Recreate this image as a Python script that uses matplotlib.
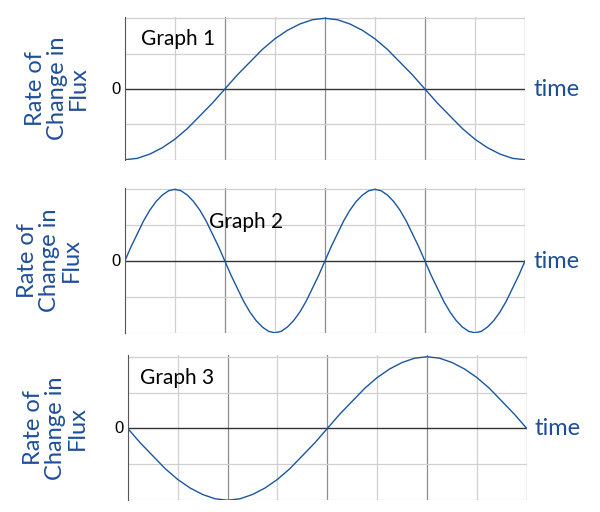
import matplotlib.pyplot as plt

# time in grid divisions (8 divisions across each graph)
t_coarse = [i * 0.25 for i in range(33)]
t_fine = [i * 0.125 for i in range(65)]

q = [0, 0.20, 0.38, 0.56, 0.71, 0.83, 0.92, 0.98, 1.0,
     0.98, 0.92, 0.83, 0.71, 0.56, 0.38, 0.20]  # a quarter wave

# graph 1: starts at minimum, peak at the middle
graph1 = [-1.0, -0.98, -0.92, -0.83, -0.71, -0.56, -0.38, -0.20, 0.0,
          0.20, 0.38, 0.56, 0.71, 0.83, 0.92, 0.98, 1.0,
          0.98, 0.92, 0.83, 0.71, 0.56, 0.38, 0.20, 0.0,
          -0.20, -0.38, -0.56, -0.71, -0.83, -0.92, -0.98, -1.0]
# graph 2: two full cycles starting at zero going up
graph2 = q + [-v for v in q] + q + [-v for v in q] + [0.0]
# graph 3: one cycle starting at zero going down
graph3 = [0.0, -0.20, -0.38, -0.56, -0.71, -0.83, -0.92, -0.98, -1.0,
          -0.98, -0.92, -0.83, -0.71, -0.56, -0.38, -0.20, 0.0,
          0.20, 0.38, 0.56, 0.71, 0.83, 0.92, 0.98, 1.0,
          0.98, 0.92, 0.83, 0.71, 0.56, 0.38, 0.20, 0.0]

titles = ["Graph 1", "Graph 2", "Graph 3"]
title_pos = [(0.04, 0.8), (0.21, 0.72), (0.03, 0.8)]
series = [(t_coarse, graph1), (t_fine, graph2), (t_coarse, graph3)]
# [left, bottom, width, height] in figure fractions
boxes = [[0.208, 0.688, 0.667, 0.279],
         [0.208, 0.350, 0.667, 0.283],
         [0.213, 0.023, 0.665, 0.283]]
ylab_x = [0.095, 0.082, 0.093]

blue = "#1f4e99"
line_blue = "#1a56a0"
plt.rcParams['font.family'] = ['Lato', 'DejaVu Sans']

fig = plt.figure(figsize=(6, 5.12), dpi=100)
for i in range(3):
    ax = fig.add_axes(boxes[i])
    x, y = series[i]
    for k in range(1, 9):
        ax.axvline(k, color="#8c8c8c" if k % 2 == 0 else "#d0d0d0", lw=0.9, zorder=0)
    for h in [-1, -0.5, 0.5, 1]:
        ax.axhline(h, color="#d0d0d0", lw=0.9, zorder=0)
    ax.axhline(0, color="#333333", lw=1.0, zorder=1)
    ax.plot(x, y, color=line_blue, lw=1.0, zorder=2)
    ax.set_xlim(0, 8)
    ax.set_ylim(-1.0, 1.02)
    for s in ["top", "right", "bottom"]:
        ax.spines[s].set_visible(False)
    ax.spines["left"].set_color("#555555")
    ax.set_xticks([])
    ax.set_yticks([])
    ax.text(-0.01, 0, "0", ha="right", va="center", fontsize=12, family="Liberation Sans",
            transform=ax.get_yaxis_transform())
    ax.text(1.02, 0, "time", ha="left", va="center", fontsize=17, color=blue,
            transform=ax.get_yaxis_transform())
    ax.text(title_pos[i][0], title_pos[i][1], titles[i], fontsize=15, transform=ax.transAxes)
    b = boxes[i]
    fig.text(ylab_x[i], b[1] + b[3] / 2, "Rate of\nChange in\nFlux", rotation=90,
             ha="center", va="center", fontsize=17, color=blue, linespacing=1.05)

fig.savefig("out.png")
